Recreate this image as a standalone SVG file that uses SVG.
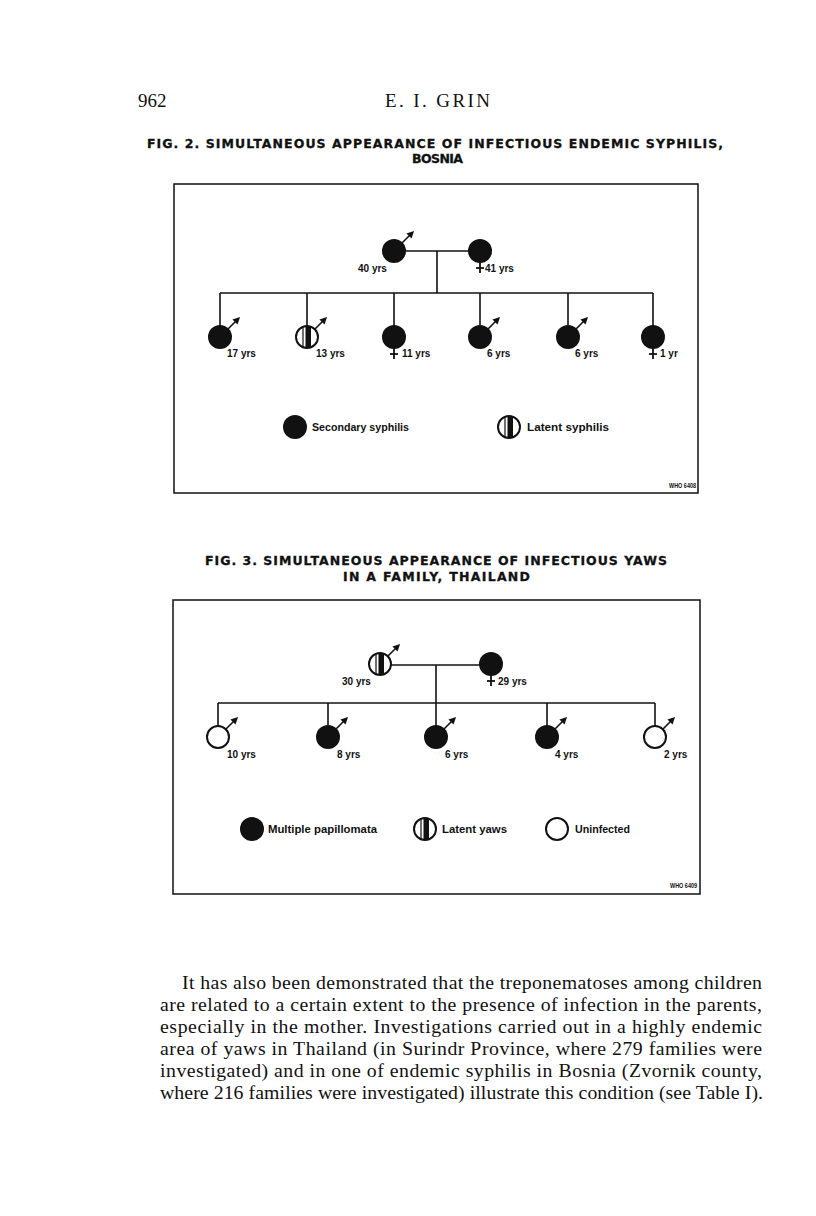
<svg xmlns="http://www.w3.org/2000/svg" width="816" height="1216" viewBox="0 0 816 1216">
<style>
.hdr{font-family:"Liberation Serif",serif;font-size:19px;fill:#111}
.ttl{font-family:"DejaVu Sans",sans-serif;font-weight:bold;font-size:12.5px;fill:#111;stroke:#111;stroke-width:0.3}
.lbl{font-family:"Liberation Sans",sans-serif;font-weight:bold;font-size:10px;fill:#111}
.leg{font-family:"Liberation Sans",sans-serif;font-weight:bold;font-size:10.5px;fill:#111}
.who{font-family:"Liberation Sans",sans-serif;font-weight:bold;font-size:8px;fill:#111}
.body{font-family:"Liberation Serif",serif;font-size:19.8px;fill:#111}
.box{fill:none;stroke:#111;stroke-width:1.5}
.ln{fill:none;stroke:#111;stroke-width:1.6}
.fill{fill:#111}
.open{fill:#fff;stroke:#111;stroke-width:2}
.male{stroke:#111;stroke-width:1.6;marker-end:url(#ah)}
.fem{stroke:#111;stroke-width:1.8}
</style>
<defs>
<marker id="ah" viewBox="0 0 10 10" refX="2" refY="5" markerWidth="4.5" markerHeight="4.5" orient="auto">
<path d="M0,0 L10,5 L0,10 z" fill="#111"/>
</marker>
<g id="latent">
<circle cx="0" cy="0" r="11" fill="#fff"/>
<rect x="-1.5" y="-11" width="5.5" height="22" fill="#111"/>
<line x1="-4" y1="-10.5" x2="-4" y2="10.5" stroke="#111" stroke-width="1.2"/>
<circle cx="0" cy="0" r="11" fill="none" stroke="#111" stroke-width="2"/>
</g>
</defs>
<rect width="816" height="1216" fill="#fff"/>

<text class="hdr" x="138" y="107">962</text>
<text class="hdr" x="385" y="107" font-size="18" textLength="105" lengthAdjust="spacing">E. I. GRIN</text>

<!-- FIG 2 -->
<text class="ttl" x="147" y="148" textLength="576" lengthAdjust="spacing">FIG. 2.  SIMULTANEOUS APPEARANCE OF INFECTIOUS ENDEMIC SYPHILIS,</text>
<text class="ttl" x="412" y="163" textLength="51" lengthAdjust="spacing">BOSNIA</text>
<rect class="box" x="174" y="184" width="524" height="309"/>

<g id="fig2-connectors">
<line class="ln" x1="405" y1="251" x2="469" y2="251"/>
<line class="ln" x1="437" y1="251" x2="437" y2="293"/>
<line class="ln" x1="220" y1="293" x2="653" y2="293"/>
<line class="ln" x1="220" y1="293" x2="220" y2="326"/>
<line class="ln" x1="307" y1="293" x2="307" y2="326"/>
<line class="ln" x1="394" y1="293" x2="394" y2="326"/>
<line class="ln" x1="480" y1="293" x2="480" y2="326"/>
<line class="ln" x1="568" y1="293" x2="568" y2="326"/>
<line class="ln" x1="653" y1="293" x2="653" y2="326"/>
</g>

<g id="f2-father">
<circle class="fill" cx="394" cy="251" r="12"/>
<line class="male" x1="402" y1="243" x2="410" y2="235"/>
<text class="lbl" x="358" y="272">40 yrs</text>
</g>
<g id="f2-mother">
<circle class="fill" cx="480" cy="251" r="12"/>
<line class="fem" x1="480" y1="262" x2="480" y2="273"/>
<line class="fem" x1="476" y1="268" x2="484" y2="268"/>
<text class="lbl" x="485" y="272">41 yrs</text>
</g>
<g id="f2-c17">
<circle class="fill" cx="220" cy="337" r="12"/>
<line class="male" x1="228" y1="329" x2="236" y2="321"/>
<text class="lbl" x="227" y="357">17 yrs</text>
</g>
<g id="f2-c13">
<use href="#latent" x="307" y="337"/>
<line class="male" x1="315" y1="329" x2="323" y2="321"/>
<text class="lbl" x="316" y="357">13 yrs</text>
</g>
<g id="f2-c11">
<circle class="fill" cx="394" cy="337" r="12"/>
<line class="fem" x1="394" y1="348" x2="394" y2="359"/>
<line class="fem" x1="390" y1="354" x2="398" y2="354"/>
<text class="lbl" x="402" y="357">11 yrs</text>
</g>
<g id="f2-c6a">
<circle class="fill" cx="480" cy="337" r="12"/>
<line class="male" x1="488" y1="329" x2="496" y2="321"/>
<text class="lbl" x="487" y="357">6 yrs</text>
</g>
<g id="f2-c6b">
<circle class="fill" cx="568" cy="337" r="12"/>
<line class="male" x1="576" y1="329" x2="584" y2="321"/>
<text class="lbl" x="575" y="357">6 yrs</text>
</g>
<g id="f2-c1">
<circle class="fill" cx="653" cy="337" r="12"/>
<line class="fem" x1="653" y1="348" x2="653" y2="359"/>
<line class="fem" x1="649" y1="354" x2="657" y2="354"/>
<text class="lbl" x="660" y="357">1 yr</text>
</g>

<g id="f2-legend">
<circle class="fill" cx="295" cy="427" r="12"/>
<text class="leg" x="312" y="431" textLength="97" lengthAdjust="spacingAndGlyphs">Secondary syphilis</text>
<use href="#latent" x="509" y="427"/>
<text class="leg" x="527" y="431" textLength="82" lengthAdjust="spacingAndGlyphs">Latent syphilis</text>
</g>
<text class="who" x="669" y="488" textLength="27" lengthAdjust="spacingAndGlyphs">WHO 6408</text>

<!-- FIG 3 -->
<text class="ttl" x="205" y="565" textLength="462" lengthAdjust="spacing">FIG. 3.  SIMULTANEOUS APPEARANCE OF INFECTIOUS YAWS</text>
<text class="ttl" x="343" y="581" textLength="187" lengthAdjust="spacing">IN A FAMILY, THAILAND</text>
<rect class="box" x="173" y="600" width="527" height="294"/>

<g id="fig3-connectors">
<line class="ln" x1="391" y1="665" x2="480" y2="665"/>
<line class="ln" x1="436" y1="665" x2="436" y2="703"/>
<line class="ln" x1="218" y1="703" x2="655" y2="703"/>
<line class="ln" x1="218" y1="703" x2="218" y2="726"/>
<line class="ln" x1="328" y1="703" x2="328" y2="726"/>
<line class="ln" x1="436" y1="703" x2="436" y2="726"/>
<line class="ln" x1="547" y1="703" x2="547" y2="726"/>
<line class="ln" x1="655" y1="703" x2="655" y2="726"/>
</g>

<g id="f3-father">
<use href="#latent" x="380" y="664"/>
<line class="male" x1="388" y1="656" x2="396" y2="648"/>
<text class="lbl" x="342" y="685">30 yrs</text>
</g>
<g id="f3-mother">
<circle class="fill" cx="491" cy="664" r="12"/>
<line class="fem" x1="491" y1="675" x2="491" y2="686"/>
<line class="fem" x1="487" y1="681" x2="495" y2="681"/>
<text class="lbl" x="498" y="685">29 yrs</text>
</g>
<g id="f3-c10">
<circle class="open" cx="218" cy="737" r="11"/>
<line class="male" x1="226" y1="729" x2="234" y2="721"/>
<text class="lbl" x="227" y="758">10 yrs</text>
</g>
<g id="f3-c8">
<circle class="fill" cx="328" cy="737" r="12"/>
<line class="male" x1="336" y1="729" x2="344" y2="721"/>
<text class="lbl" x="337" y="758">8 yrs</text>
</g>
<g id="f3-c6">
<circle class="fill" cx="436" cy="737" r="12"/>
<line class="male" x1="444" y1="729" x2="452" y2="721"/>
<text class="lbl" x="445" y="758">6 yrs</text>
</g>
<g id="f3-c4">
<circle class="fill" cx="547" cy="737" r="12"/>
<line class="male" x1="555" y1="729" x2="563" y2="721"/>
<text class="lbl" x="555" y="758">4 yrs</text>
</g>
<g id="f3-c2">
<circle class="open" cx="655" cy="737" r="11"/>
<line class="male" x1="663" y1="729" x2="671" y2="721"/>
<text class="lbl" x="664" y="758">2 yrs</text>
</g>

<g id="f3-legend">
<circle class="fill" cx="252" cy="829" r="12"/>
<text class="leg" x="268" y="833" textLength="109" lengthAdjust="spacingAndGlyphs">Multiple papillomata</text>
<use href="#latent" x="425" y="829"/>
<text class="leg" x="442" y="833" textLength="65" lengthAdjust="spacingAndGlyphs">Latent yaws</text>
<circle class="open" cx="557" cy="829" r="11"/>
<text class="leg" x="575" y="833" textLength="55" lengthAdjust="spacingAndGlyphs">Uninfected</text>
</g>
<text class="who" x="670" y="888" textLength="27" lengthAdjust="spacingAndGlyphs">WHO 6409</text>

<!-- body text -->
<text class="body" x="182" y="989" textLength="580" lengthAdjust="spacing">It has also been demonstrated that the treponematoses among children</text>
<text class="body" x="160" y="1011" textLength="602" lengthAdjust="spacing">are related to a certain extent to the presence of infection in the parents,</text>
<text class="body" x="160" y="1033" textLength="602" lengthAdjust="spacing">especially in the mother.  Investigations carried out in a highly endemic</text>
<text class="body" x="160" y="1055" textLength="602" lengthAdjust="spacing">area of yaws in Thailand (in Surindr Province, where 279 families were</text>
<text class="body" x="160" y="1077" textLength="602" lengthAdjust="spacing">investigated) and in one of endemic syphilis in Bosnia (Zvornik county,</text>
<text class="body" x="160" y="1099" textLength="603" lengthAdjust="spacing">where 216 families were investigated) illustrate this condition (see Table I).</text>
</svg>
